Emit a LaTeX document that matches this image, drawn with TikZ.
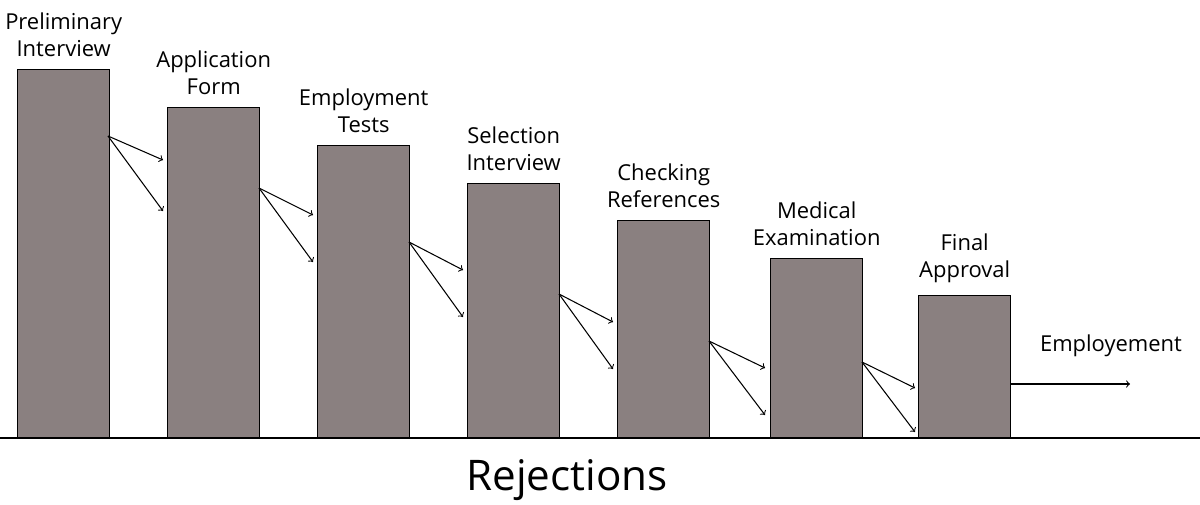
\documentclass[tikz,border=0pt]{standalone}
\usepackage{fontspec}
\setmainfont{Open Sans}
\usetikzlibrary{positioning}
\definecolor{bargray}{HTML}{8A8080}
\tikzstyle{arrow} = [->, semithick]
\tikzstyle{bar} = [draw, fill=bargray, thick, minimum width=1.84cm, anchor=south west, inner sep=0pt]
\tikzstyle{caption} = [align=center, font=\fontsize{12.5}{15}\selectfont, inner sep=1pt]

\begin{document}
\begin{tikzpicture}[x=0.02cm, y=-0.02cm]
	\useasboundingbox (0,0) rectangle (1200,504);
	\draw [thick] (0,438) -- (1200,438);

	\node (b1) [bar, minimum height=7.36cm] at (17,438) {};
	\node (b2) [bar, minimum height=6.60cm] at (167,438) {};
	\node (b3) [bar, minimum height=5.84cm] at (317,438) {};
	\node (b4) [bar, minimum height=5.08cm] at (467,438) {};
	\node (b5) [bar, minimum height=4.34cm] at (617,438) {};
	\node (b6) [bar, minimum height=3.58cm] at (770,438) {};
	\node (b7) [bar, minimum height=2.84cm] at (918,438) {};

	\node (l1) [caption, above=0.2cm of b1] {Preliminary\\Interview};
	\node (l2) [caption, above=0.2cm of b2] {Application\\Form};
	\node (l3) [caption, above=0.2cm of b3] {Employment\\Tests};
	\node (l4) [caption, above=0.2cm of b4] {Selection\\Interview};
	\node (l5) [caption, above=0.2cm of b5] {Checking\\References};
	\node (l6) [caption, above=0.2cm of b6] {Medical\\Examination};
	\node (l7) [caption, above=0.2cm of b7] {Final\\Approval};
	\node (emp) [caption] at (1111,346) {Employement};
	\node (rej) [font=\fontsize{24}{28}\selectfont] at (567,480) {Rejections};

	% rejection arrows
	\coordinate (r1) at (108,136); \coordinate (r2) at (259,188);
	\coordinate (r3) at (409,242); \coordinate (r4) at (559,294);
	\coordinate (r5) at (709,341); \coordinate (r6) at (862,362);
	\coordinate (e1) at (1010,384); \coordinate (e2) at (1130,384);

	\draw [arrow] (r1) -- (163,160);
	\draw [arrow] (r1) -- (163,211);
	\draw [arrow] (r2) -- (313,215);
	\draw [arrow] (r2) -- (313,262);
	\draw [arrow] (r3) -- (463,270);
	\draw [arrow] (r3) -- (463,317);
	\draw [arrow] (r4) -- (613,322);
	\draw [arrow] (r4) -- (613,369);
	\draw [arrow] (r5) -- (765,368);
	\draw [arrow] (r5) -- (765,415);
	\draw [arrow] (r6) -- (915,388);
	\draw [arrow] (r6) -- (915,432);
	\draw [arrow] (e1) -- (e2);
\end{tikzpicture}
\end{document}
